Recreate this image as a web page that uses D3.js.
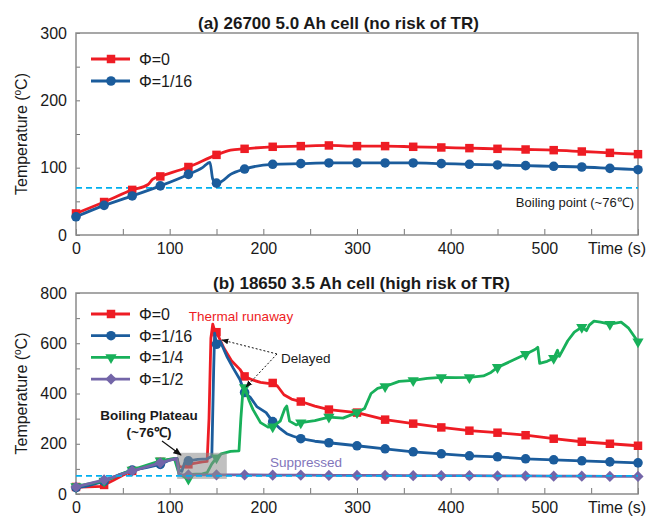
<!DOCTYPE html>
<html>
<head>
<meta charset="utf-8">
<script src="https://cdn.jsdelivr.net/npm/d3@7"></script>
<style>
body { margin: 0; background: #fff; }
text { font-family: Arial, "Liberation Sans", sans-serif; fill: #1a1a1a; }
</style>
</head>
<body>
<div id="chart"></div>
<script>
// ---- data: [time (s), temperature (C)] ----
var boilingLine = 70;

// (a) 26700 5.0 Ah cell
var phi0A = [[0,32],[30,49],[60,67],[77,75],[82,83],[90,87],[120,101],[150,119],[165,126],[180,128],[210,131],[240,132],[270,133],[300,132],[330,132],[360,131],[390,130],[420,129],[450,128],[480,127],[510,126],[540,124],[570,122],[600,120]];
var phi16A = [[0,27],[30,44],[60,58],[90,73],[120,90],[135,100],[143,108],[146,83],[150,77],[155,79],[165,90],[180,98],[210,105],[240,106],[270,107],[300,107],[330,107],[360,107],[390,106],[420,105],[450,104],[480,103],[510,102],[540,101],[570,99],[600,97]];

// (b) 18650 3.5 Ah cell
var phi0B = [[0,28],[5,27],[28,30],[30,36],[40,55],[50,75],[60,92],[75,108],[90,128],[100,138],[108,140],[110,112],[113,106],[120,118],[135,128],[140,130],[142,300],[144,620],[146,676],[148,650],[150,644],[158,580],[166,530],[175,496],[180,468],[190,452],[197,444],[205,440],[210,442],[215,430],[222,395],[230,378],[240,368],[255,350],[270,336],[285,330],[300,324],[330,296],[360,280],[390,265],[420,252],[450,244],[480,234],[510,220],[540,208],[570,200],[600,192]];
var phi16B = [[0,25],[10,30],[30,50],[45,75],[60,95],[75,105],[90,118],[100,135],[108,142],[110,95],[113,90],[116,125],[120,132],[130,138],[140,140],[145,150],[147,500],[148,640],[150,596],[154,608],[161,548],[168,500],[175,456],[180,404],[186,385],[193,348],[203,324],[210,288],[218,260],[225,240],[232,230],[240,220],[255,210],[270,204],[300,192],[330,180],[360,168],[390,160],[420,152],[450,148],[480,140],[510,136],[540,132],[570,128],[600,124]];
var phi4B = [[0,30],[30,52],[60,96],[90,132],[105,142],[110,80],[115,70],[120,60],[122,78],[135,80],[140,85],[145,120],[150,144],[155,160],[165,170],[174,172],[176,300],[178,400],[180,424],[185,370],[189,336],[197,284],[205,266],[210,268],[218,290],[223,340],[225,350],[228,290],[235,275],[240,284],[255,292],[270,306],[285,302],[300,324],[308,340],[315,400],[322,420],[330,428],[345,448],[360,452],[375,460],[390,464],[405,463],[420,464],[435,470],[443,484],[450,504],[464,528],[480,556],[490,575],[493,584],[495,520],[503,528],[510,540],[514,572],[516,548],[525,610],[532,644],[540,664],[545,650],[548,672],[553,688],[560,684],[570,676],[582,684],[590,660],[600,606]];
var phi2B = [[0,28],[30,56],[60,92],[90,124],[100,135],[107,142],[110,80],[113,76],[120,76],[150,76],[180,76],[210,75],[240,75],[270,74],[300,74],[330,74],[360,73],[390,73],[420,73],[450,72],[480,72],[510,71],[540,71],[570,70],[600,70]];

var xTickLabels = [0,100,200,300,400,500];
var yTicksA = [0,100,200,300];
var yTicksB = [0,200,400,600,800];

var red = "#ee1c24", blue = "#1b5c9c", green = "#18b05a", purple = "#7365a8";

var svg = d3.select("#chart").append("svg")
  .attr("width", 654)
  .attr("height", 518);

var x = d3.scaleLinear().domain([0, 600]).range([76, 638]);

// draws frame, ticks and labels of one panel
function drawPanel(top, bottom, ymax, minorY, yLabels, title, titleX) {
  var y = d3.scaleLinear().domain([0, ymax]).range([bottom, top]);
  var g = svg.append("g");

  var xAxis = d3.axisBottom(x)
    .tickValues(d3.range(0, 601, 50))
    .tickSize(-6)
    .tickPadding(8)
    .tickFormat(d => xTickLabels.indexOf(d) >= 0 ? d : "");
  g.append("g")
    .attr("transform", `translate(0,${bottom})`)
    .call(xAxis);

  var yAxis = d3.axisLeft(y)
    .tickValues(d3.range(0, ymax + 1, minorY))
    .tickSize(-4)
    .tickPadding(9)
    .tickFormat(d => yLabels.indexOf(d) >= 0 ? d : "");
  g.append("g")
    .attr("transform", `translate(${x(0)},0)`)
    .call(yAxis);

  g.selectAll(".domain").remove();
  g.selectAll(".tick line").attr("stroke", "#777");
  g.selectAll(".tick text").style("font-size", "16px").attr("fill", "#1a1a1a");

  g.append("rect")
    .attr("x", x(0)).attr("y", top)
    .attr("width", x(600) - x(0)).attr("height", bottom - top)
    .attr("fill", "none").attr("stroke", "#8a8a8a").attr("stroke-width", 1.5);

  g.append("text")
    .attr("x", titleX).attr("y", top - 4)
    .style("font-size", "17px").style("font-weight", "bold")
    .text(title);

  g.append("text")
    .attr("x", 588).attr("y", bottom + 19)
    .style("font-size", "16px")
    .text("Time (s)");

  var yl = g.append("text")
    .attr("transform", `translate(27,${(top + bottom) / 2}) rotate(-90)`)
    .attr("text-anchor", "middle")
    .style("font-size", "16px");
  yl.append("tspan").text("Temperature (");
  yl.append("tspan").text("o").style("font-size", "10px").attr("dy", -6);
  yl.append("tspan").text("C)").attr("dy", 6);

  return y;
}

function markerPath(kind, size) {
  if (kind === "circle") return d3.symbol(d3.symbolCircle, size)();
  if (kind === "triangle") return d3.symbol(d3.symbolTriangle, size)();
  return d3.symbol(d3.symbolSquare, size)();
}
function markerRotate(kind) {
  if (kind === "triangle") return " rotate(180)";
  if (kind === "diamond") return " rotate(45)";
  return "";
}

function drawSeries(y, data, color, kind, size, curve) {
  var line = d3.line()
    .x(d => x(d[0]))
    .y(d => y(d[1]))
    .curve(curve);
  svg.append("path")
    .datum(data)
    .attr("d", line)
    .attr("fill", "none")
    .attr("stroke", color)
    .attr("stroke-width", 2.8)
    .attr("stroke-linejoin", "round");
  svg.append("g").selectAll("path")
    .data(data.filter(d => d[0] % 30 === 0))
    .enter()
    .append("path")
    .attr("d", markerPath(kind, size))
    .attr("transform", d => `translate(${x(d[0])},${y(d[1])})` + markerRotate(kind))
    .attr("fill", color);
}

function drawLegend(items, y0, step) {
  items.forEach(function(it, i) {
    var cy = y0 + i * step;
    svg.append("line")
      .attr("x1", 91).attr("x2", 130).attr("y1", cy).attr("y2", cy)
      .attr("stroke", it.color).attr("stroke-width", 2.8);
    svg.append("path")
      .attr("d", markerPath(it.kind, it.size))
      .attr("transform", `translate(111,${cy})` + markerRotate(it.kind))
      .attr("fill", it.color);
    svg.append("text")
      .attr("x", 139).attr("y", cy + 6)
      .style("font-size", "16px")
      .text(it.name);
  });
}

svg.append("defs").append("marker")
  .attr("id", "arrow")
  .attr("viewBox", "0 0 10 10")
  .attr("refX", 9).attr("refY", 5)
  .attr("markerWidth", 7).attr("markerHeight", 7)
  .attr("orient", "auto")
  .append("path").attr("d", "M0,1 L10,5 L0,9 Z").attr("fill", "#111");

// ---- panel (a) ----
var yA = drawPanel(33, 235, 300, 50, yTicksA, "(a) 26700 5.0 Ah cell (no risk of TR)", 198);

svg.append("line")
  .attr("x1", x(0)).attr("x2", x(600))
  .attr("y1", yA(boilingLine)).attr("y2", yA(boilingLine))
  .attr("stroke", "#00b0f0").attr("stroke-width", 1.6).attr("stroke-dasharray", "6,4");

drawSeries(yA, phi0A, red, "square", 72, d3.curveMonotoneX);
drawSeries(yA, phi16A, blue, "circle", 72, d3.curveMonotoneX);

svg.append("text")
  .attr("x", 634).attr("y", 207)
  .attr("text-anchor", "end")
  .style("font-size", "13px")
  .text("Boiling point (~76\u2103)");

drawLegend([
  {name: "\u03A6=0", color: red, kind: "square", size: 72},
  {name: "\u03A6=1/16", color: blue, kind: "circle", size: 72}
], 59, 22);

// ---- panel (b) ----
var yB = drawPanel(293, 494, 800, 100, yTicksB, "(b) 18650 3.5 Ah cell (high risk of TR)", 213);

drawSeries(yB, phi0B, red, "square", 72, d3.curveLinear);
drawSeries(yB, phi16B, blue, "circle", 72, d3.curveLinear);
drawSeries(yB, phi4B, green, "triangle", 55, d3.curveLinear);
drawSeries(yB, phi2B, purple, "diamond", 62, d3.curveLinear);

// boiling plateau box
svg.append("rect")
  .attr("x", x(108)).attr("y", yB(164))
  .attr("width", x(161) - x(108)).attr("height", yB(60) - yB(164))
  .attr("fill", "#8c8c8c").attr("opacity", 0.55);

svg.append("line")
  .attr("x1", x(0)).attr("x2", x(600))
  .attr("y1", yB(72)).attr("y2", yB(72))
  .attr("stroke", "#00b0f0").attr("stroke-width", 1.6).attr("stroke-dasharray", "6,4");

drawLegend([
  {name: "\u03A6=0", color: red, kind: "square", size: 72},
  {name: "\u03A6=1/16", color: blue, kind: "circle", size: 72},
  {name: "\u03A6=1/4", color: green, kind: "triangle", size: 55},
  {name: "\u03A6=1/2", color: purple, kind: "diamond", size: 62}
], 314, 21.7);

// annotations
svg.append("text")
  .attr("x", 241).attr("y", 321)
  .attr("text-anchor", "middle")
  .style("font-size", "13.5px").style("fill", red)
  .text("Thermal runaway");

svg.append("text")
  .attr("x", 281).attr("y", 363)
  .style("font-size", "13.5px")
  .text("Delayed");

svg.append("line")
  .attr("x1", 277).attr("y1", 354).attr("x2", 222).attr("y2", 340)
  .attr("stroke", "#111").attr("stroke-width", 1).attr("stroke-dasharray", "2,2")
  .attr("marker-end", "url(#arrow)");
svg.append("line")
  .attr("x1", 277).attr("y1", 354).attr("x2", 246).attr("y2", 387)
  .attr("stroke", "#111").attr("stroke-width", 1).attr("stroke-dasharray", "2,2")
  .attr("marker-end", "url(#arrow)");

svg.append("text")
  .attr("x", 270).attr("y", 467)
  .style("font-size", "13.5px").style("fill", "#8275bb")
  .text("Suppressed");

svg.append("text")
  .attr("x", 149).attr("y", 420)
  .attr("text-anchor", "middle")
  .style("font-size", "13.5px").style("font-weight", "bold")
  .text("Boiling Plateau");
svg.append("text")
  .attr("x", 149).attr("y", 437)
  .attr("text-anchor", "middle")
  .style("font-size", "13.5px").style("font-weight", "bold")
  .text("(~76\u2103)");

svg.append("line")
  .attr("x1", 162).attr("y1", 441).attr("x2", 181).attr("y2", 455)
  .attr("stroke", "#111").attr("stroke-width", 1.2)
  .attr("marker-end", "url(#arrow)");
</script>
</body>
</html>
